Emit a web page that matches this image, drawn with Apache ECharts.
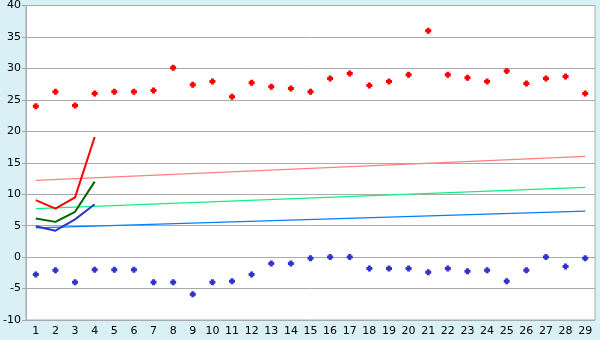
<!DOCTYPE html>
<html><head><meta charset="utf-8">
<script src="https://cdn.jsdelivr.net/npm/echarts@6/dist/echarts.min.js"></script>
<style>html,body{margin:0;padding:0;background:#daf0f7;}#c{width:600px;height:340px;}</style>
</head><body><div id="c"></div>
<script>
const categories = ['1','2','3','4','5','6','7','8','9','10','11','12','13','14','15','16','17','18','19','20','21','22','23','24','25','26','27','28','29'];
const highPoints = [24.0,26.3,24.1,26.0,26.3,26.3,26.5,30.1,27.4,27.9,25.5,27.7,27.1,26.8,26.3,28.4,29.2,27.3,27.9,29.0,36.0,29.0,28.5,27.9,29.6,27.6,28.4,28.7,26.0];
const lowPoints = [-2.75,-2.1,-4.0,-2.0,-2.0,-2.0,-4.0,-4.0,-5.9,-4.0,-3.85,-2.75,-1.0,-1.0,-0.2,0.0,0.0,-1.8,-1.8,-1.8,-2.4,-1.8,-2.25,-2.1,-3.85,-2.1,0.0,-1.5,-0.2];
const redLine = [9.05,7.7,9.5,19.1];
const greenLine = [6.15,5.6,7.2,12.0];
const blueLine = [4.9,4.2,6.0,8.4];
const pinkTrend = [12.2,16.0];
const greenTrend = [7.7,11.1];
const blueTrend = [4.65,7.3];
const yTicks = {min:-10,max:40,interval:5};

function trend(t){const a=categories.map(()=>null);a[0]=t[0];a[a.length-1]=t[1];return a;}
const cross='path://M1,0H3V1H4V3H3V4H1V3H0V1H1Z';
const chart = echarts.init(document.getElementById('c'),null,{renderer:'canvas'});
const font='"DejaVu Sans", Verdana, sans-serif';
chart.setOption({
  animation:false,
  backgroundColor:'#daf0f7',
  grid:{left:26,right:5,top:5,bottom:20,show:true,backgroundColor:'#ffffff',borderColor:'#aaaaaa',borderWidth:1},
  xAxis:{type:'category',data:categories,boundaryGap:true,
    axisLine:{lineStyle:{color:'#aaaaaa'}},
    axisTick:{alignWithLabel:true,length:5,lineStyle:{color:'#000'}},
    axisLabel:{color:'#000',fontFamily:font,fontSize:11,margin:6,interval:0},
    splitLine:{show:false}},
  yAxis:{type:'value',min:yTicks.min,max:yTicks.max,interval:yTicks.interval,
    axisLine:{show:true,lineStyle:{color:'#aaaaaa'}},
    axisTick:{show:true,length:4,lineStyle:{color:'#aaaaaa'}},
    axisLabel:{color:'#000',fontFamily:font,fontSize:11,margin:5},
    splitLine:{lineStyle:{color:'#aaaaaa'}}},
  series:[
    {type:'line',data:trend(pinkTrend),connectNulls:true,symbol:'none',lineStyle:{color:'#ff8080',width:1.2}},
    {type:'line',data:trend(greenTrend),connectNulls:true,symbol:'none',lineStyle:{color:'#10f080',width:1.2}},
    {type:'line',data:trend(blueTrend),connectNulls:true,symbol:'none',lineStyle:{color:'#0080ff',width:1.2}},
    {type:'line',data:redLine,symbol:'none',lineStyle:{color:'#ff0000',width:2}},
    {type:'line',data:greenLine,symbol:'none',lineStyle:{color:'#006600',width:2}},
    {type:'line',data:blueLine,symbol:'none',lineStyle:{color:'#3333cc',width:2}},
    {type:'scatter',data:highPoints,symbol:cross,symbolSize:6,itemStyle:{color:'#ff0000',opacity:1}},
    {type:'scatter',data:lowPoints,symbol:cross,symbolSize:6,itemStyle:{color:'#3333cc',opacity:1}}
  ]
});
</script></body></html>
